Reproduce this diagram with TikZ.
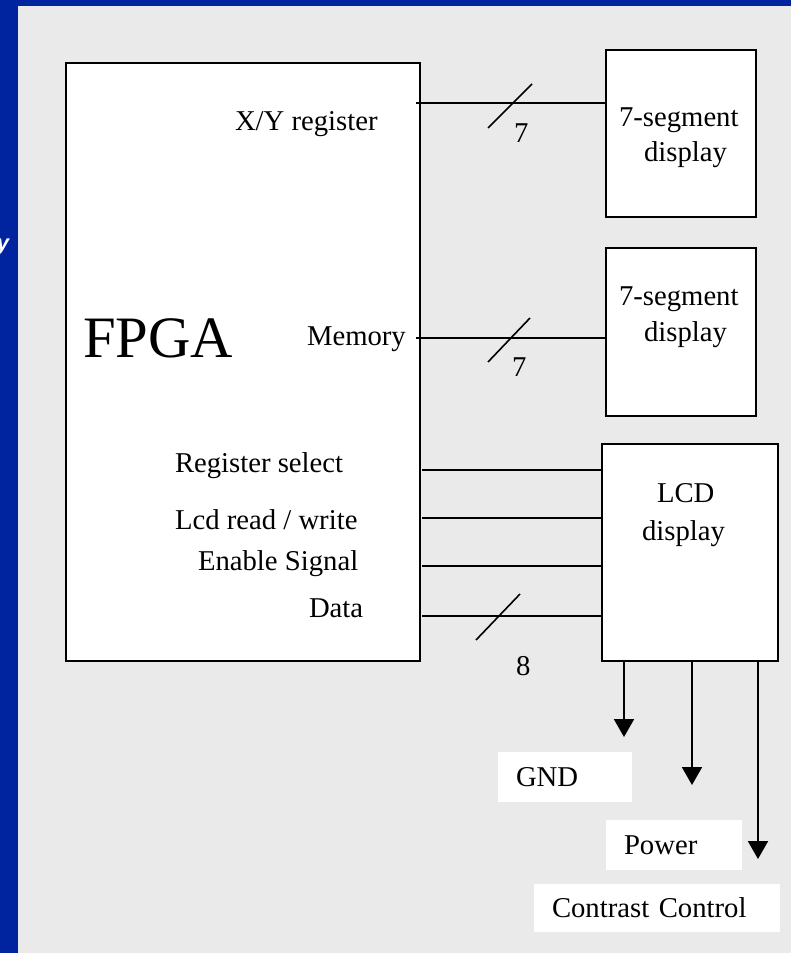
\documentclass[tikz,border=0pt]{standalone}
\usepackage{fontspec}
\setmainfont{Liberation Serif}
\newfontfamily\sidefont{Liberation Sans}
\usetikzlibrary{arrows.meta}
\definecolor{sideblue}{RGB}{0,35,160}
\definecolor{bggray}{RGB}{234,234,234}
\begin{document}
\begin{tikzpicture}[x=1pt,y=-1pt,
  every node/.style={inner sep=0pt,outer sep=0pt},
  box/.style={draw=black,line width=2pt,fill=white},
  txt/.style={font=\fontsize{28.7}{34}\selectfont,anchor=base west},
  wire/.style={line width=2pt},
  slash/.style={line width=1.6pt},
  arr/.style={line width=2pt,-{Triangle[width=20pt,length=18pt]}},
  lab/.style={fill=white,font=\fontsize{28.7}{34}\selectfont,align=left,inner xsep=18pt,inner ysep=0pt,anchor=west}]
\useasboundingbox (0,0) rectangle (791,953);
\fill[sideblue] (0,0) rectangle (791,953);
\fill[bggray] (18,6) rectangle (791,953);
\node[anchor=base east,text=white,font=\sidefont\bfseries\itshape\fontsize{22}{24}\selectfont] (sidey) at (9,250) {y};
% boxes
\node[box,minimum width=354pt,minimum height=598pt] (fpga) at (243,362) {};
\node[box,minimum width=150pt,minimum height=167pt] (seg1) at (681,133.5) {};
\node[box,minimum width=150pt,minimum height=168pt] (seg2) at (681,332) {};
\node[box,minimum width=176pt,minimum height=217pt] (lcd) at (690,552.5) {};
% texts in FPGA
\node[anchor=base west,font=\fontsize{58.7}{66}\selectfont] (tfpga) at (83,357) {FPGA};
\node[txt] (txy) at (235,130) {X/Y register};
\node[txt] (tmem) at (307,345) {Memory};
\node[txt] (trs) at (175,472) {Register select};
\node[txt] (trw) at (175,529) {Lcd read / write};
\node[txt] (ten) at (198,570) {Enable Signal};
\node[txt] (tdata) at (309,617) {Data};
% texts in displays
\node[txt] (s1a) at (619,126) {7-segment};
\node[txt] (s1b) at (644,161) {display};
\node[txt] (s2a) at (619,305) {7-segment};
\node[txt] (s2b) at (644,341) {display};
\node[txt] (lcda) at (657,502) {LCD};
\node[txt] (lcdb) at (642,540) {display};
% bus widths
\node[txt] (n7a) at (514,142) {7};
\node[txt] (n7b) at (512,376) {7};
\node[txt] (n8) at (516,675) {8};
% connectors
\coordinate (xyS) at (416,103);
\coordinate (memS) at (416,338);
\coordinate (rsS) at (422,470);
\coordinate (rwS) at (422,518);
\coordinate (enS) at (422,566);
\coordinate (daS) at (422,616);
\draw[wire] (xyS) -- (xyS -| seg1.west);
\draw[wire] (memS) -- (memS -| seg2.west);
\draw[wire] (rsS) -- (rsS -| lcd.west);
\draw[wire] (rwS) -- (rwS -| lcd.west);
\draw[wire] (enS) -- (enS -| lcd.west);
\draw[wire] (daS) -- (daS -| lcd.west);
\draw[slash] (488,128) -- (532,84);
\draw[slash] (488,362) -- (530,318);
\draw[slash] (476,640) -- (520,594);
% power lines
\coordinate (gndE) at (624,737);
\coordinate (pwrE) at (692,785);
\coordinate (conE) at (758,859);
\draw[arr] (lcd.south -| gndE) -- (gndE);
\draw[arr] (lcd.south -| pwrE) -- (pwrE);
\draw[arr] (lcd.south -| conE) -- (conE);
% labels
\node[lab,text width=98pt,minimum height=50pt] (gnd) at (498,777) {GND};
\node[lab,text width=100pt,minimum height=50pt] (pwr) at (606,845) {Power};
\node[lab,text width=210pt,minimum height=48pt] (con) at (534,908) {Contrast Control};
\end{tikzpicture}
\end{document}
